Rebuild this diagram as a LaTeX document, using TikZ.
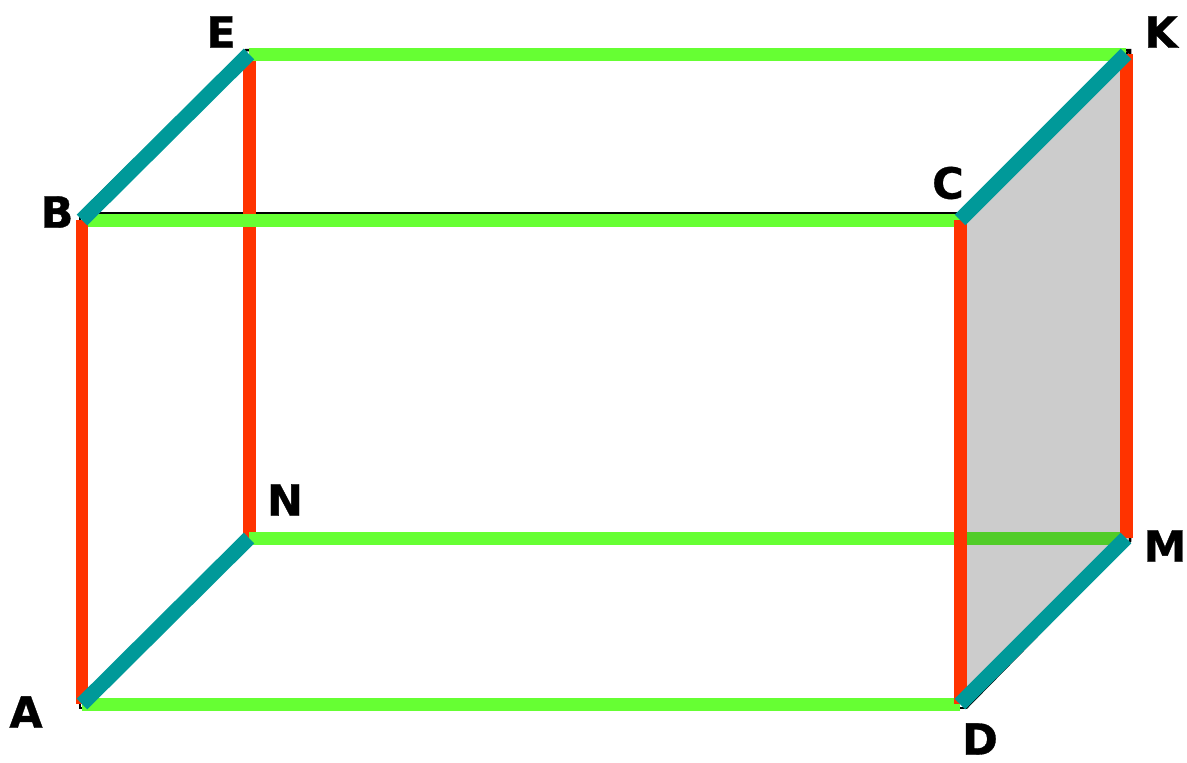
\documentclass[tikz,border=0pt]{standalone}
\usepackage{fontspec}
\setmainfont{DejaVu Sans}[BoldFeatures={FakeBold=0.8}]
\definecolor{edgered}{HTML}{FF3300}
\definecolor{edgegreen}{HTML}{66FF33}
\definecolor{edgeteal}{HTML}{009999}
\tikzset{
  boxline/.style={black, line width=0.05cm},
  redline/.style={edgered, line width=0.26cm},
  greenline/.style={edgegreen, line width=0.26cm},
  tealline/.style={edgeteal, line width=0.3cm},
  vertexlabel/.style={font=\fontsize{24.5}{24.5}\selectfont\bfseries, inner sep=0pt}
}
\begin{document}
\begin{tikzpicture}[x=0.02cm,y=-0.02cm]
\useasboundingbox (0,0) rectangle (1187,762);
% black cuboid underneath
\coordinate (a0) at (80,708);
\coordinate (b0) at (80,213.5);
\coordinate (c0) at (966,213.5);
\coordinate (d0) at (966,708);
\coordinate (e0) at (246,50);
\coordinate (k0) at (1130,50);
\coordinate (m0) at (1130,541);
% coloured edges
\coordinate (a) at (82,704);
\coordinate (b) at (82,220);
\coordinate (c) at (960,220);
\coordinate (d) at (960,704);
\coordinate (e) at (249,54);
\coordinate (k) at (1126,54);
\coordinate (m) at (1126,538);
\coordinate (n) at (249,538);
\draw[boxline] (a0) -- (b0) -- (c0) -- (d0) -- cycle;
\draw[boxline] (b0) -- (e0) -- (k0) -- (m0) -- (d0);
\draw[boxline] (c0) -- (k0);
\draw[redline] (e) -- (n);
\draw[greenline] (e) -- (k);
\draw[greenline] (b) -- (c);
\draw[greenline] (n) -- (m);
\draw[greenline] (a) -- (d);
% grey side face
\fill[black, opacity=0.2] (c0) -- (k0) -- (m0) -- (d0) -- cycle;
\draw[redline] (b) -- (a);
\draw[redline] (c) -- (d);
\draw[redline] (k) -- (m);
\draw[tealline] (b) -- (e);
\draw[tealline] (a) -- (n);
\draw[tealline] (c) -- (k);
\draw[tealline] (d) -- (m);
\node[vertexlabel] (la) at (26,712) {A};
\node[vertexlabel] (lb) at (57,212) {B};
\node[vertexlabel] (lc) at (948,183) {C};
\node[vertexlabel] (ld) at (980,739) {D};
\node[vertexlabel] (le) at (221,32) {E};
\node[vertexlabel] (lk) at (1161,32) {K};
\node[vertexlabel] (lm) at (1165,546) {M};
\node[vertexlabel] (ln) at (285,500) {N};
\end{tikzpicture}
\end{document}
